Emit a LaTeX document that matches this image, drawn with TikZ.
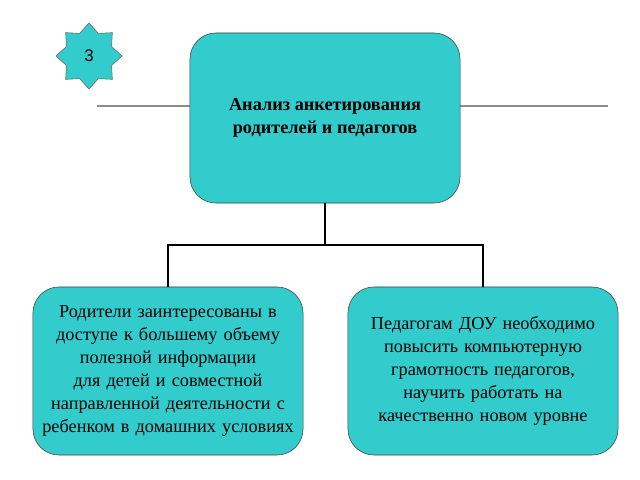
\documentclass[tikz,border=0pt]{standalone}
\usepackage{fontspec}
\setmainfont{Liberation Serif}
\newfontfamily\starfont{Liberation Sans}
\usetikzlibrary{shapes.geometric}
\definecolor{tealfill}{HTML}{33CCCC}
\tikzset{
	block/.style={draw=black!75, fill=tealfill, rounded corners=0.65cm, align=center,
		font=\fontsize{13}{16.4}\selectfont, inner sep=2pt},
	link/.style={draw=black, line width=1.2pt},
	rule/.style={draw=black!45, line width=0.8pt}
}
\begin{document}
\begin{tikzpicture}[x=0.025cm,y=-0.025cm]
	\useasboundingbox (0,0) rectangle (640,480);

	% lines behind the title
	\coordinate (rl1) at (97,106);
	\coordinate (rl2) at (608,106);
	\draw[rule] (rl1) -- (rl2);

	\node[block, minimum width=6.75cm, minimum height=4.25cm, font=\bfseries\fontsize{13}{16.4}\selectfont] (title) at (325,118)
		{Анализ анкетирования\\родителей и педагогов};

	\node[star, star points=8, star point ratio=1.35, minimum size=1.65cm, inner sep=0pt,
		draw=black!60, fill=tealfill, font=\starfont\fontsize{12}{14}\selectfont] (num) at (89,56) {3};

	\node[block, minimum width=6.75cm, minimum height=4.2cm, text width=6.3cm] (parents) at (168,371)
		{Родители заинтересованы в доступе к большему объему полезной информации для детей и совместной направленной деятельности с ребенком в домашних условиях};
	\node[block, minimum width=6.75cm, minimum height=4.2cm, text width=6.3cm] (teachers) at (483,371)
		{Педагогам ДОУ необходимо повысить компьютерную грамотность педагогов, научить работать на качественно новом уровне};

	% tree connectors
	\coordinate (fork) at (325,245);
	\draw[link] (title.south) -- (fork);
	\draw[link] (parents.north) |- (fork) -| (teachers.north);
\end{tikzpicture}
\end{document}
